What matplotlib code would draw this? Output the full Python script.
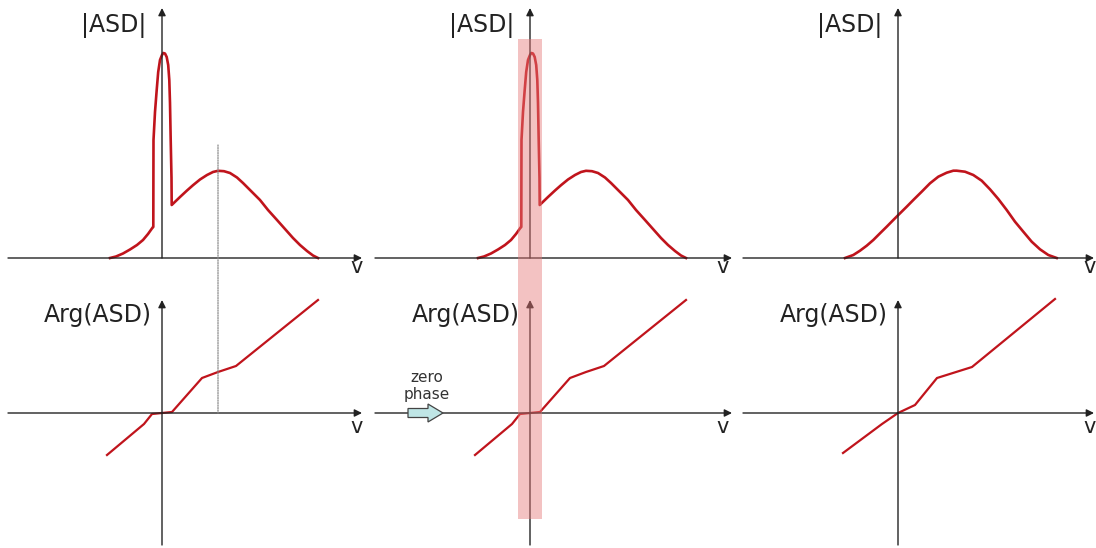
import matplotlib
matplotlib.use("Agg")
import matplotlib.pyplot as plt
import matplotlib.patches as mpatches
from matplotlib.patches import ConnectionPatch

# ---- data (units: 1 = 10 px, origin at the axis crossing) ----
# |ASD| with a narrow zero-frequency peak (panels 1 and 2)
nu_mix = [-5.2, -4.6, -3.9, -3.2, -2.5, -1.9, -1.4, -0.9, -0.87, -0.86, -0.85,
          -0.7, -0.53, -0.38, -0.2, 0.0, 0.13, 0.3, 0.47, 0.62, 0.73, 0.8, 0.87,
          0.95, 0.97, 1.8, 2.5, 3.1, 3.8, 4.5, 5.1, 5.6, 6.2, 6.8, 7.5, 8.1,
          9.0, 9.8, 10.6, 11.5, 12.3, 13.1, 13.8, 14.5, 15.1, 15.6]
amp_mix = [0.0, 0.15, 0.45, 0.85, 1.3, 1.8, 2.4, 3.1, 3.1, 8.0, 11.8,
           14.6, 16.8, 18.6, 19.8, 20.3, 20.5, 20.45, 20.1, 19.3, 17.8, 15.5, 11.8,
           8.0, 5.3, 6.1, 6.75, 7.28, 7.85, 8.3, 8.6, 8.72, 8.68, 8.5, 8.05, 7.5,
           6.6, 5.8, 4.8, 3.8, 2.9, 2.0, 1.3, 0.7, 0.25, 0.0]

# |ASD| of the clean signal (panel 3)
nu_clean = [-5.3, -4.47, -3.8, -3.13, -2.47, -1.8, -1.13, -0.47, 0.03, 0.87,
            1.53, 2.37, 3.2, 4.03, 4.87, 5.53, 5.87, 6.7, 7.53, 8.37, 9.2,
            10.03, 10.87, 11.7, 12.53, 13.37, 14.2, 15.03, 15.87]
amp_clean = [0.0, 0.3, 0.73, 1.23, 1.8, 2.47, 3.13, 3.8, 4.3, 5.13,
             5.8, 6.63, 7.47, 8.13, 8.53, 8.73, 8.73, 8.63, 8.3, 7.73, 6.87,
             5.9, 4.8, 3.63, 2.63, 1.63, 0.87, 0.3, 0.0]

# Arg(ASD)
nu_ph_mix = [-5.5, -1.8, -1.0, 0.0, 1.0, 4.0, 5.6, 7.4, 15.6]
ph_mix = [-4.2, -1.1, -0.1, 0.0, 0.1, 3.5, 4.1, 4.7, 11.3]
nu_ph_clean = [-5.5, -1.6, 0.0, 1.7, 3.9, 7.4, 15.7]
ph_clean = [-4.0, -1.1, 0.0, 0.8, 3.5, 4.6, 11.4]

RED = "#c0141c"
AX = "#222222"

fig = plt.figure(figsize=(10.96, 5.48), dpi=100)
W, H = 1096.0, 548.0

origins = [162, 530, 898]      # x pixel of each vertical axis
h_left = [-15.4, -15.5, -15.5]
h_right = [20.0, 20.2, 19.6]
v_lab_x = [19.5, 19.3, 19.2]


def axis_arrow(ax, start, end):
    ax.annotate("", xy=end, xytext=start,
                arrowprops=dict(arrowstyle="-|>", color=AX, lw=1.0,
                                mutation_scale=11, shrinkA=0, shrinkB=0))


tops, bots = [], []
for i, ox in enumerate(origins):
    left = ox - 160
    right = min(ox + 205, W)
    xl = (-16.0, (right - ox) / 10.0)

    # top panel: pixel rows 0..278, horizontal axis at row 258
    at = fig.add_axes([left / W, (H - 278) / H, (right - left) / W, 278 / H])
    at.set_xlim(*xl)
    at.set_ylim(-2.0, 25.8)
    at.axis("off")
    axis_arrow(at, (h_left[i], 0), (h_right[i], 0))
    axis_arrow(at, (0, 0), (0, 25.0))
    at.text(-1.6, 23.3, "|ASD|", ha="right", va="center", fontsize=17, color=AX)
    at.text(v_lab_x[i], -0.9, "v", ha="center", va="center", fontsize=15, color=AX)

    # bottom panel: pixel rows 280..548, horizontal axis at row 413
    ab = fig.add_axes([left / W, 0, (right - left) / W, 268 / H])
    ab.set_xlim(*xl)
    ab.set_ylim(-13.5, 13.3)
    ab.axis("off")
    axis_arrow(ab, (h_left[i], 0), (h_right[i], 0))
    axis_arrow(ab, (0, -13.2), (0, 11.3))
    ab.text(-1.0, 9.8, "Arg(ASD)", ha="right", va="center", fontsize=17, color=AX)
    ab.text(v_lab_x[i], -1.4, "v", ha="center", va="center", fontsize=15, color=AX)

    if i < 2:
        at.plot(nu_mix, amp_mix, color=RED, lw=1.9, solid_joinstyle="round")
        ab.plot(nu_ph_mix, ph_mix, color=RED, lw=1.6)
    else:
        at.plot(nu_clean, amp_clean, color=RED, lw=1.9, solid_joinstyle="round")
        ab.plot(nu_ph_clean, ph_clean, color=RED, lw=1.6)
    tops.append(at)
    bots.append(ab)

# dotted guide at the hump maximum (panel 1)
guide = ConnectionPatch(xyA=(5.6, 11.3), coordsA=tops[0].transData,
                        xyB=(5.6, 0), coordsB=bots[0].transData,
                        color="#8a8a8a", lw=0.9, linestyle=(0, (1, 1)))
fig.add_artist(guide)

# shaded band around zero frequency (panel 2)
inv = fig.transFigure.inverted()
x0, y1 = inv.transform(tops[1].transData.transform((-1.2, 21.9)))
x1, y0 = inv.transform(bots[1].transData.transform((1.2, -10.6)))
band = mpatches.Rectangle((x0, y0), x1 - x0, y1 - y0, transform=fig.transFigure,
                          facecolor="#e67878", alpha=0.45, edgecolor="none")
fig.patches.append(band)

# "zero phase" arrow (panel 2)
bots[1].add_patch(mpatches.FancyArrow(-12.2, 0, 3.5, 0, width=0.9, head_width=1.8,
                                      head_length=1.5, length_includes_head=True,
                                      facecolor="#bfe6e6", edgecolor="#444444",
                                      lw=0.9, zorder=3))
bots[1].text(-10.3, 2.7, "zero\nphase", ha="center", va="center", fontsize=11,
             color="#333333", linespacing=1.15)

fig.savefig("out.png", dpi=100)
